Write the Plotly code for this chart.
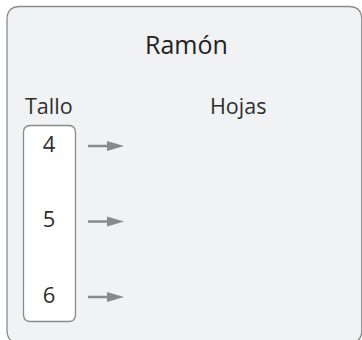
import plotly.graph_objects as go

# ---- data ----
title = "Ramón"
stem_header = "Tallo"
leaf_header = "Hojas"
stems = [4, 5, 6]
leaves = [[], [], []]  # empty leaves (to be filled in)

# ---- layout geometry (pixel space) ----
W, H = 362, 340
row_top, row_step = 146, 75.5
row_y = [row_top + i * row_step for i in range(len(stems))]
stem_x = 49
arrow_x0, arrow_x1 = 88, 124
font = "Open Sans"
grey = "#8a8a8a"
txt = "#2e2e2e"


def rrect(x0, y0, x1, y1, r):
    return (f"M{x0+r},{y0} L{x1-r},{y0} Q{x1},{y0} {x1},{y0+r} "
            f"L{x1},{y1-r} Q{x1},{y1} {x1-r},{y1} L{x0+r},{y1} "
            f"Q{x0},{y1} {x0},{y1-r} L{x0},{y0+r} Q{x0},{y0} {x0+r},{y0} Z")


fig = go.Figure()

shapes = [
    dict(type="path", path=rrect(7, 6.5, 361.8, 343, 13),
         line=dict(color=grey, width=1.3), fillcolor="#f1f2f4", layer="below"),
    dict(type="path", path=rrect(23.5, 125.5, 75.5, 321.5, 7),
         line=dict(color=grey, width=1.3), fillcolor="#ffffff", layer="below"),
]

# arrows: shaft + triangular head for each stem row
for y in row_y:
    shapes.append(dict(type="line", x0=arrow_x0, x1=arrow_x1 - 14, y0=y, y1=y,
                       line=dict(color=grey, width=2.5)))
    shapes.append(dict(type="path",
                       path=f"M{arrow_x1-17},{y-5} L{arrow_x1},{y} L{arrow_x1-17},{y+5} Z",
                       line=dict(color=grey, width=0), fillcolor=grey))

# stems text
fig.add_trace(go.Scatter(
    x=[stem_x] * len(stems), y=row_y, mode="text",
    text=[str(s) for s in stems],
    textfont=dict(family=font, size=22, color=txt),
    hoverinfo="skip", showlegend=False))

# leaves text (empty)
fig.add_trace(go.Scatter(
    x=[140] * len(stems), y=row_y, mode="text",
    text=[" ".join(str(l) for l in lv) for lv in leaves],
    textposition="middle right",
    textfont=dict(family=font, size=22, color=txt),
    hoverinfo="skip", showlegend=False))

annotations = [
    dict(x=186.5, y=43.5, text=title, showarrow=False,
         font=dict(family=font, size=25, color="#222222")),
    dict(x=49, y=105.5, text=stem_header, showarrow=False,
         font=dict(family=font, size=21.5, color=txt)),
    dict(x=237.5, y=105.5, text=leaf_header, showarrow=False,
         font=dict(family=font, size=21.5, color=txt)),
]

fig.update_layout(
    width=W, height=H,
    margin=dict(l=0, r=0, t=0, b=0),
    paper_bgcolor="white", plot_bgcolor="white",
    xaxis=dict(range=[0, W], visible=False, fixedrange=True),
    yaxis=dict(range=[H, 0], visible=False, fixedrange=True),
    shapes=shapes, annotations=annotations,
)

fig.write_html("out.html", config=dict(displayModeBar=False),
               post_script="document.body.style.margin='0';document.body.style.overflow='hidden';")
